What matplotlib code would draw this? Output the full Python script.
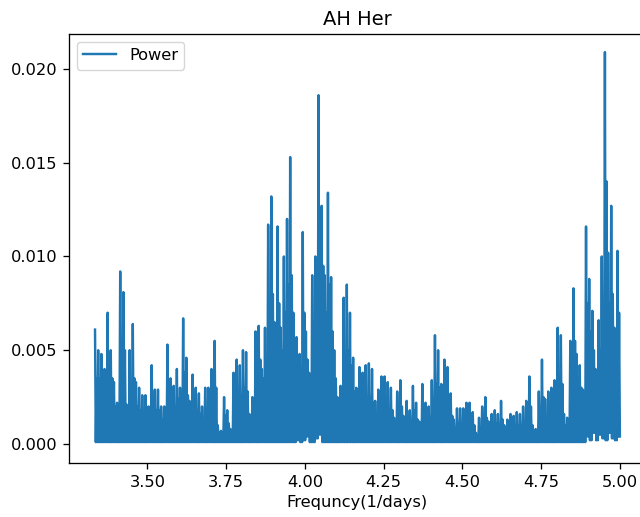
import numpy as np
import matplotlib
matplotlib.use("Agg")
import matplotlib.pyplot as plt

title = "AH Her"
xlabel = "Frequncy(1/days)"
series_label = "Power"

freq_start = 1 / 0.3
freq_step = 0.01

# envelope (local peak) power for each frequency bin
peaks = [
    0.0061, 0.0050, 0.0048, 0.0040, 0.0070, 0.0050, 0.0033, 0.0022, 0.0092, 0.0081,
    0.0021, 0.0050, 0.0064, 0.0033, 0.0030, 0.0026, 0.0026, 0.0020, 0.0042, 0.0029,
    0.0029, 0.0020, 0.0020, 0.0053, 0.0035, 0.0031, 0.0040, 0.0030, 0.0067, 0.0046,
    0.0023, 0.0037, 0.0030, 0.0027, 0.0020, 0.0030, 0.0030, 0.0040, 0.0055, 0.0010,
    0.0007, 0.0025, 0.0018, 0.0008, 0.0038, 0.0045, 0.0042, 0.0050, 0.0049, 0.0016,
    0.0025, 0.0060, 0.0063, 0.0040, 0.0062, 0.0117, 0.0132, 0.0065, 0.0116, 0.0062,
    0.0100, 0.0120, 0.0153, 0.0070, 0.0057, 0.0048, 0.0113, 0.0060, 0.0038, 0.0090,
    0.0100, 0.0186, 0.0127, 0.0090, 0.0134, 0.0089, 0.0050, 0.0025, 0.0031, 0.0078,
    0.0085, 0.0070, 0.0046, 0.0030, 0.0041, 0.0038, 0.0042, 0.0043, 0.0040, 0.0023,
    0.0029, 0.0036, 0.0036, 0.0033, 0.0030, 0.0014, 0.0028, 0.0034, 0.0015, 0.0023,
    0.0018, 0.0031, 0.0022, 0.0012, 0.0032, 0.0022, 0.0020, 0.0034, 0.0058, 0.0050,
    0.0032, 0.0045, 0.0041, 0.0027, 0.0013, 0.0019, 0.0019, 0.0019, 0.0022, 0.0022,
    0.0017, 0.0006, 0.0014, 0.0020, 0.0025, 0.0012, 0.0016, 0.0018, 0.0016, 0.0023,
    0.0010, 0.0013, 0.0016, 0.0015, 0.0017, 0.0016, 0.0020, 0.0023, 0.0036, 0.0010,
    0.0008, 0.0028, 0.0045, 0.0024, 0.0028, 0.0030, 0.0034, 0.0062, 0.0058, 0.0016,
    0.0014, 0.0055, 0.0083, 0.0048, 0.0042, 0.0029, 0.0116, 0.0088, 0.0071, 0.0040,
    0.0066, 0.0100, 0.0209, 0.0102, 0.0127, 0.0062, 0.0103,
]

# secondary (dense "floor") power level inside each bin
floors = [
    0.0035, 0.0035, 0.0030, 0.0022, 0.0045, 0.0035, 0.0020, 0.0016, 0.0055, 0.0050,
    0.0014, 0.0030, 0.0035, 0.0020, 0.0018, 0.0016, 0.0016, 0.0013, 0.0024, 0.0018,
    0.0018, 0.0013, 0.0013, 0.0030, 0.0020, 0.0020, 0.0024, 0.0018, 0.0038, 0.0026,
    0.0014, 0.0022, 0.0018, 0.0016, 0.0013, 0.0018, 0.0018, 0.0024, 0.0030, 0.0006,
    0.0005, 0.0015, 0.0011, 0.0005, 0.0022, 0.0026, 0.0025, 0.0030, 0.0028, 0.0010,
    0.0015, 0.0040, 0.0045, 0.0035, 0.0045, 0.0075, 0.0080, 0.0055, 0.0075, 0.0050,
    0.0070, 0.0085, 0.0090, 0.0055, 0.0045, 0.0040, 0.0070, 0.0045, 0.0030, 0.0060,
    0.0075, 0.0120, 0.0095, 0.0070, 0.0085, 0.0060, 0.0035, 0.0015, 0.0018, 0.0045,
    0.0050, 0.0042, 0.0028, 0.0018, 0.0025, 0.0022, 0.0025, 0.0025, 0.0022, 0.0013,
    0.0016, 0.0021, 0.0021, 0.0019, 0.0018, 0.0009, 0.0016, 0.0020, 0.0009, 0.0013,
    0.0011, 0.0018, 0.0013, 0.0007, 0.0018, 0.0013, 0.0012, 0.0020, 0.0032, 0.0030,
    0.0019, 0.0026, 0.0024, 0.0015, 0.0007, 0.0011, 0.0011, 0.0011, 0.0013, 0.0013,
    0.0010, 0.0004, 0.0008, 0.0012, 0.0014, 0.0007, 0.0010, 0.0011, 0.0010, 0.0013,
    0.0006, 0.0008, 0.0010, 0.0009, 0.0010, 0.0010, 0.0012, 0.0013, 0.0020, 0.0006,
    0.0005, 0.0016, 0.0025, 0.0014, 0.0016, 0.0018, 0.0020, 0.0035, 0.0032, 0.0010,
    0.0010, 0.0040, 0.0055, 0.0035, 0.0030, 0.0022, 0.0075, 0.0060, 0.0050, 0.0032,
    0.0050, 0.0070, 0.0140, 0.0075, 0.0080, 0.0045, 0.0070,
]

# low (trough) power between the spikes
troughs = [
    0.0001, 0.0001, 0.0001, 0.0001, 0.0001, 0.0001, 0.0001, 0.0001, 0.0001, 0.0001,
    0.0001, 0.0001, 0.0001, 0.0001, 0.0001, 0.0001, 0.0001, 0.0001, 0.0001, 0.0001,
    0.0001, 0.0001, 0.0001, 0.0001, 0.0001, 0.0001, 0.0001, 0.0001, 0.0001, 0.0001,
    0.0001, 0.0001, 0.0001, 0.0001, 0.0001, 0.0001, 0.0001, 0.0001, 0.0001, 0.0001,
    0.0001, 0.0001, 0.0001, 0.0001, 0.0001, 0.0001, 0.0001, 0.0001, 0.0001, 0.0001,
    0.0001, 0.0001, 0.0001, 0.0001, 0.0001, 0.0001, 0.0001, 0.0001, 0.0001, 0.0001,
    0.0001, 0.0001, 0.0001, 0.0001, 0.0002, 0.0001, 0.0002, 0.0004, 0.0001, 0.0001,
    0.0003, 0.0005, 0.0001, 0.0001, 0.0001, 0.0001, 0.0001, 0.0001, 0.0001, 0.0001,
    0.0001, 0.0001, 0.0001, 0.0001, 0.0001, 0.0001, 0.0001, 0.0001, 0.0001, 0.0001,
    0.0001, 0.0001, 0.0001, 0.0001, 0.0001, 0.0001, 0.0001, 0.0001, 0.0001, 0.0001,
    0.0001, 0.0001, 0.0001, 0.0001, 0.0001, 0.0001, 0.0001, 0.0001, 0.0001, 0.0001,
    0.0001, 0.0001, 0.0001, 0.0001, 0.0001, 0.0001, 0.0001, 0.0001, 0.0001, 0.0001,
    0.0001, 0.0001, 0.0001, 0.0001, 0.0001, 0.0001, 0.0001, 0.0001, 0.0001, 0.0001,
    0.0001, 0.0001, 0.0001, 0.0001, 0.0001, 0.0001, 0.0001, 0.0001, 0.0001, 0.0001,
    0.0001, 0.0001, 0.0001, 0.0001, 0.0001, 0.0001, 0.0001, 0.0001, 0.0001, 0.0001,
    0.0001, 0.0001, 0.0001, 0.0001, 0.0001, 0.0001, 0.0004, 0.0002, 0.0006, 0.0002,
    0.0005, 0.0003, 0.0002, 0.0006, 0.0003, 0.0002, 0.0004,
]

plt.rcParams.update({
    "font.size": 11.7,
    "lines.linewidth": 1.75,
    "axes.linewidth": 0.94,
    "xtick.major.size": 4.1,
    "ytick.major.size": 4.1,
    "xtick.major.width": 0.94,
    "ytick.major.width": 0.94,
    "xtick.major.pad": 4.1,
    "ytick.major.pad": 4.1,
})

n = len(peaks)
freq = freq_start + freq_step * np.arange(n)
x = np.empty(4 * n)
y = np.empty(4 * n)
for k in range(4):
    x[k::4] = freq + k * freq_step / 4
y[0::4] = peaks
y[1::4] = troughs
y[2::4] = floors
y[3::4] = troughs

fig = plt.figure(figsize=(6.4, 5.17), dpi=100)
ax = fig.add_axes([0.1075, 0.1035, 0.9016, 0.8317])
ax.plot(x, y, color="#1f77b4", label=series_label)
ax.set_xlim(3.25, 5.0833)
ax.set_ylim(-0.00104, 0.02189)
ax.set_xticks([3.50, 3.75, 4.00, 4.25, 4.50, 4.75, 5.00])
ax.set_yticks([0.0, 0.005, 0.010, 0.015, 0.020])
ax.set_xlabel(xlabel)
ax.set_title(title)
ax.legend(loc="upper left")
fig.savefig("out.png", dpi=100)
